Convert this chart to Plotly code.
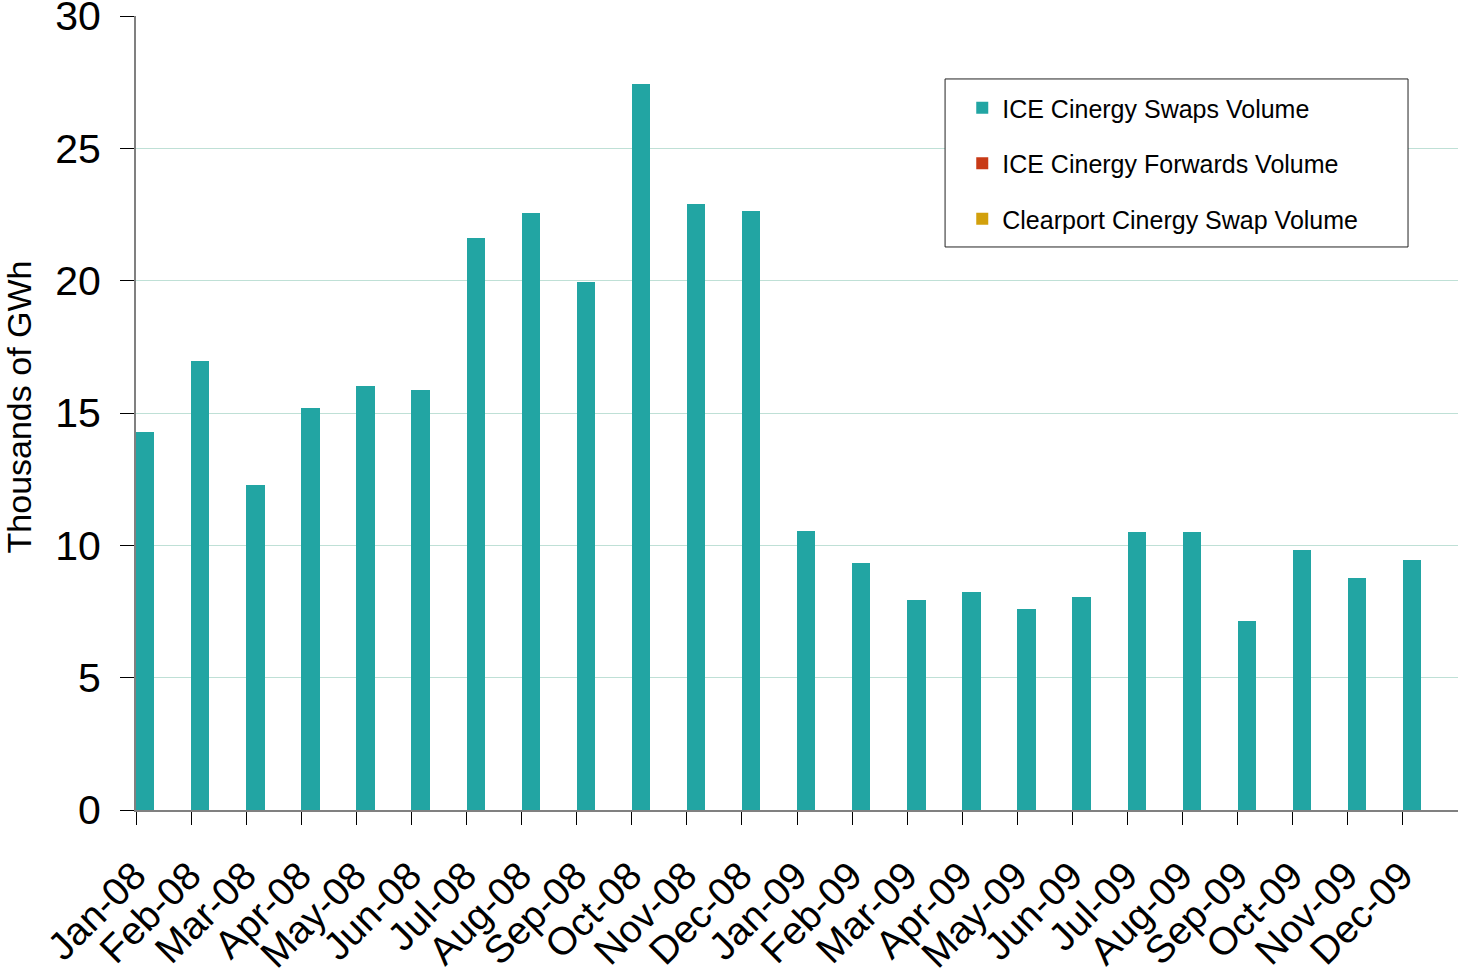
import plotly.graph_objects as go

months = ["Jan-08", "Feb-08", "Mar-08", "Apr-08", "May-08", "Jun-08",
          "Jul-08", "Aug-08", "Sep-08", "Oct-08", "Nov-08", "Dec-08",
          "Jan-09", "Feb-09", "Mar-09", "Apr-09", "May-09", "Jun-09",
          "Jul-09", "Aug-09", "Sep-09", "Oct-09", "Nov-09", "Dec-09"]

ice_swaps = [14.28, 16.96, 12.28, 15.19, 16.02, 15.87,
             21.61, 22.55, 19.95, 27.43, 22.89, 22.63,
             10.54, 9.33, 7.93, 8.24, 7.59, 8.05,
             10.50, 10.50, 7.14, 9.82, 8.76, 9.44]
ice_forwards = [0] * 24
clearport_swaps = [0] * 24

series_names = ["ICE Cinergy Swaps Volume", "ICE Cinergy Forwards Volume",
                "Clearport Cinergy Swap Volume"]
series_values = [ice_swaps, ice_forwards, clearport_swaps]
series_colors = ["#22A5A3", "#C83A16", "#D2A00C"]

y_title = "Thousands of GWh"

fig = go.Figure()
for name, vals, col in zip(series_names, series_values, series_colors):
    fig.add_trace(go.Bar(x=months, y=vals, name=name, marker_color=col,
                         marker_line_width=0, legendgroup=name))

FONT = "Liberation Sans, Arial, sans-serif"

# legend frame (page pixels 945..1408 x 79..247; plot area 136..1458 x 16..810)
fig.add_shape(type="rect", xref="paper", yref="paper",
              x0=0.6120, x1=0.9622, y0=0.7091, y1=0.9207,
              line=dict(color="#222222", width=1), fillcolor="white",
              layer="above")

# y-axis title
fig.add_annotation(text=y_title, xref="paper", yref="paper",
                   x=-0.0885, y=0.507, textangle=-90, showarrow=False,
                   xanchor="center", yanchor="middle",
                   font=dict(size=34, family=FONT, color="black"))

fig.update_layout(
    width=1458, height=975,
    margin=dict(l=136, r=0, t=16, b=165, autoexpand=False),
    paper_bgcolor="white", plot_bgcolor="white",
    barmode="group", bargap=0, bargroupgap=0,
    font=dict(family=FONT, color="black"),
    showlegend=True,
    legend=dict(x=0.625, y=0.913, xanchor="left", yanchor="top",
                bgcolor="rgba(0,0,0,0)", borderwidth=0,
                font=dict(size=25, family=FONT), tracegroupgap=20,
                traceorder="grouped"),
    xaxis=dict(type="category", tickson="boundaries", ticks="outside",
               ticklen=13, tickcolor="black", showline=True,
               linecolor="#808080", linewidth=2, showgrid=False,
               tickangle=-45, tickfont=dict(size=39, family=FONT),
               ticklabelshift=-29, ticklabelstandoff=25,
               ticklabeloverflow="allow", automargin=False),
    yaxis=dict(range=[0, 30], dtick=5, ticks="outside", ticklen=14,
               tickcolor="black", showline=True, linecolor="#808080",
               linewidth=2, showgrid=True, gridcolor="#bfe0d6", gridwidth=1,
               zeroline=False, tickfont=dict(size=41, family=FONT),
               ticklabelstandoff=11, ticklabeloverflow="allow",
               automargin=False),
)

fig.write_html("out.html",
               config={"displayModeBar": False},
               post_script="document.body.style.margin='0';")
